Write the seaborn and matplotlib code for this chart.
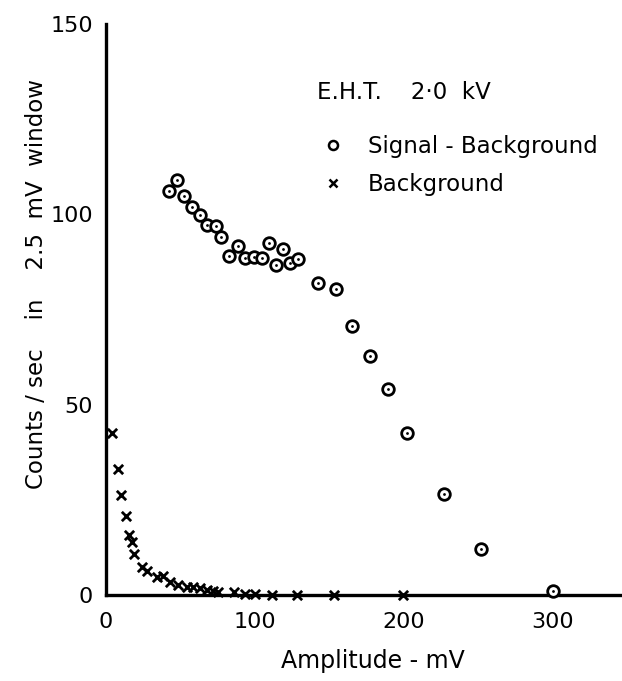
import matplotlib
matplotlib.use("Agg")
import matplotlib.pyplot as plt
import seaborn as sns
import pandas as pd
from matplotlib.lines import Line2D

# Signal - Background (amplitude mV, counts/sec)
sig_x = [42.6, 47.6, 52.7, 58.1, 63.3, 68.2, 74.1, 77.4, 83.0, 88.4, 93.6, 99.2,
         105.1, 109.3, 114.3, 118.7, 123.9, 129.1, 142.6, 154.2, 165, 177, 189,
         202, 227, 252, 300]
sig_y = [106.0, 109.1, 104.9, 101.9, 99.9, 97.3, 97.0, 94.0, 89.0, 91.8, 88.6, 88.7,
         88.4, 92.5, 86.6, 91.0, 87.1, 88.3, 82.0, 80.4, 70.7, 62.8, 54.1,
         42.5, 26.6, 12.0, 1.0]

# Background
bg_x = [4.5, 8.3, 10.1, 13.3, 15.5, 17.7, 19.1, 24.5, 27.8, 34.1, 38.2, 43.1, 48.7,
        54.3, 58.8, 63.3, 67.8, 71.8, 75.6, 85.7, 93.6, 100.3, 111.6, 128.4, 153.1, 199.5]
bg_y = [42.6, 33.0, 26.2, 20.9, 15.7, 14.0, 10.7, 7.4, 6.4, 4.8, 5.1, 3.5, 2.6,
        2.2, 2.2, 1.8, 1.3, 1.1, 0.9, 0.9, 0.4, 0.4, 0.0, 0.0, 0.0, 0.0]

x_ticks = [0, 100, 200, 300]
y_ticks = [0, 50, 100, 150]

sns.set_style("white")
plt.rcParams['font.family'] = ['DejaVu Sans']
plt.rcParams['text.color'] = 'black'
plt.rcParams['axes.labelcolor'] = 'black'

fig = plt.figure(figsize=(6.22, 6.81), dpi=100)
ax = fig.add_axes([0.170, 0.126, 0.827, 0.839])

sig = pd.DataFrame({"x": sig_x, "y": sig_y})
bg = pd.DataFrame({"x": bg_x, "y": bg_y})

sns.scatterplot(data=sig, x="x", y="y", ax=ax, marker="o", s=70,
                facecolor="white", edgecolor="black", linewidth=2.0,
                clip_on=False, zorder=3)
sns.scatterplot(data=sig, x="x", y="y", ax=ax, marker="o", s=4,
                color="black", linewidth=0, clip_on=False, zorder=4)
sns.scatterplot(data=bg, x="x", y="y", ax=ax, marker="x", s=45,
                color="black", linewidth=2.0, clip_on=False, zorder=3)

ax.set_xlim(0, 345)
ax.set_ylim(0, 150)
ax.set_xticks(x_ticks)
ax.set_yticks(y_ticks)
ax.set_xticklabels([str(t) for t in x_ticks])
ax.set_yticklabels([str(t) for t in y_ticks])

for s in ["top", "right"]:
    ax.spines[s].set_visible(False)
for s in ["left", "bottom"]:
    ax.spines[s].set_linewidth(2.4)
    ax.spines[s].set_color("black")

ax.tick_params(axis="both", direction="out", length=4, width=1.5,
               labelsize=16, colors="black", pad=5)
ax.tick_params(axis="x", pad=8)

ax.set_xlabel("Amplitude - mV", fontsize=17)
ax.xaxis.set_label_coords(0.52, -0.095)
ax.set_ylabel("Counts / sec    in    2.5  mV  window", fontsize=16.5)
ax.yaxis.set_label_coords(-0.112, 0.545)

ax.text(0.41, 0.879, "E.H.T.    2·0  kV", transform=ax.transAxes, fontsize=16.5,
        ha="left", va="center")

handles = [
    Line2D([], [], marker="o", linestyle="none", markersize=6.5,
           markerfacecolor="white", markeredgecolor="black", markeredgewidth=1.8),
    Line2D([], [], marker="x", linestyle="none", markersize=6,
           color="black", markeredgewidth=1.8),
]
ax.legend(handles, ["Signal - Background", "Background"], loc="upper left",
          bbox_to_anchor=(0.42, 0.806), frameon=False, fontsize=16.5,
          handletextpad=1.0, labelspacing=0.65, handlelength=1.0,
          borderpad=0, borderaxespad=0)

fig.savefig("out.png", dpi=100)
